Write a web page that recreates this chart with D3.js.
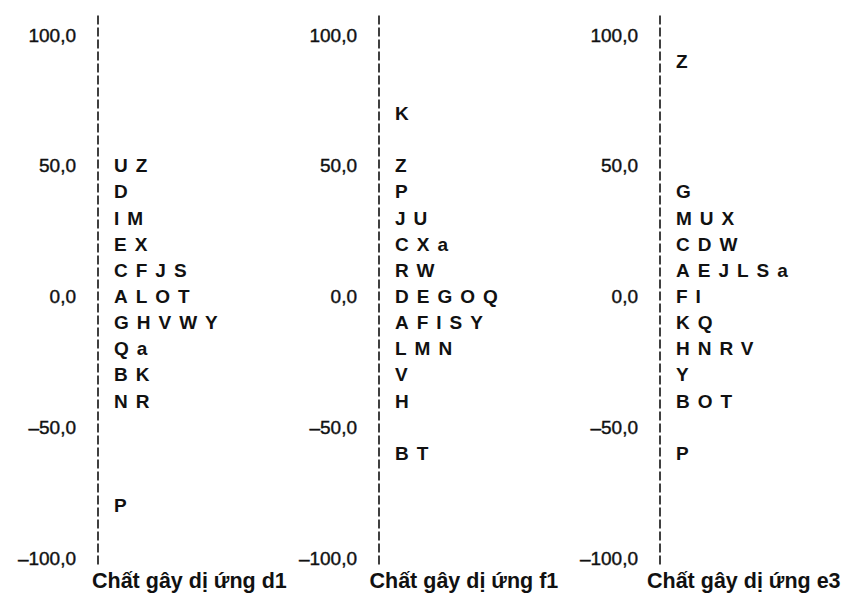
<!DOCTYPE html>
<html lang="vi">
<head>
    <meta charset="UTF-8">
    <title>Chất gây dị ứng</title>
    <style>
        body {
            margin: 0;
            background: #fff;
        }
        svg {
            display: block;
            font-family: "Liberation Sans", Arial, sans-serif;
        }
        .tick text {
            font-size: 19px;
            fill: #111;
            stroke: #111;
            stroke-width: 0.4px;
        }
        .axis-line {
            stroke: #111;
            stroke-width: 1.6px;
            stroke-dasharray: 9 3;
        }
        .group-label {
            font-size: 19px;
            font-weight: bold;
            fill: #111;
            letter-spacing: 8px;
        }
        .panel-title {
            font-size: 21.5px;
            font-weight: bold;
            fill: #111;
        }
    </style>
</head>
<body>
    <svg id="chart" width="845" height="594"></svg>

    <script src="https://cdnjs.cloudflare.com/ajax/libs/d3/7.8.5/d3.min.js"></script>
    <script>
        // tick values on each axis
        const tickValues = [100, 50, 0, -50, -100];

        const panelTitles = ["Chất gây dị ứng d1", "Chất gây dị ứng f1", "Chất gây dị ứng e3"];

        // letters shown at each score level
        const d1Values = [50, 40, 30, 20, 10, 0, -10, -20, -30, -40, -80];
        const d1Labels = ["UZ", "D", "IM", "EX", "CFJS", "ALOT", "GHVWY", "Qa", "BK", "NR", "P"];

        const f1Values = [70, 50, 40, 30, 20, 10, 0, -10, -20, -30, -40, -60];
        const f1Labels = ["K", "Z", "P", "JU", "CXa", "RW", "DEGOQ", "AFISY", "LMN", "V", "H", "BT"];

        const e3Values = [90, 40, 30, 20, 10, 0, -10, -20, -30, -40, -60];
        const e3Labels = ["Z", "G", "MUX", "CDW", "AEJLSa", "FI", "KQ", "HNRV", "Y", "BOT", "P"];

        const panels = [
            { values: d1Values, labels: d1Labels },
            { values: f1Values, labels: f1Labels },
            { values: e3Values, labels: e3Labels }
        ];

        const svg = d3.select("#chart");

        const x = d3.scaleLinear().domain([0, 2]).range([98, 660]);
        const titleX = d3.scaleLinear().domain([0, 2]).range([92, 647]);
        const y = d3.scaleLinear().domain([-100, 100]).range([558, 35]);

        const locale = d3.formatLocale({
            decimal: ",",
            thousands: ".",
            grouping: [3],
            currency: ["", ""],
            minus: "\u2013"
        });
        const fmt = locale.format(".1f");

        panels.forEach((p, i) => {
            const g = svg.append("g")
                .attr("transform", `translate(${x(i)},0)`);

            // dashed vertical axis
            g.append("line")
                .attr("class", "axis-line")
                .attr("x1", 0)
                .attr("x2", 0)
                .attr("y1", y(107.5))
                .attr("y2", y(-103));

            // tick labels
            const axis = d3.axisLeft(y)
                .tickValues(tickValues)
                .tickSize(0)
                .tickPadding(22)
                .tickFormat(fmt);

            const ax = g.append("g").call(axis);
            ax.select(".domain").remove();
            ax.selectAll("text").attr("font-family", null).attr("font-size", null);

            // letters at each level
            g.selectAll(".group-label")
                .data(p.values.map((v, k) => ({ v, s: p.labels[k] })))
                .enter()
                .append("text")
                .attr("class", "group-label")
                .attr("x", 16)
                .attr("y", d => y(d.v))
                .attr("dominant-baseline", "central")
                .text(d => d.s);

            // panel title under the axis
            svg.append("text")
                .attr("class", "panel-title")
                .attr("x", titleX(i))
                .attr("y", 588)
                .text(panelTitles[i]);
        });
    </script>
</body>
</html>
